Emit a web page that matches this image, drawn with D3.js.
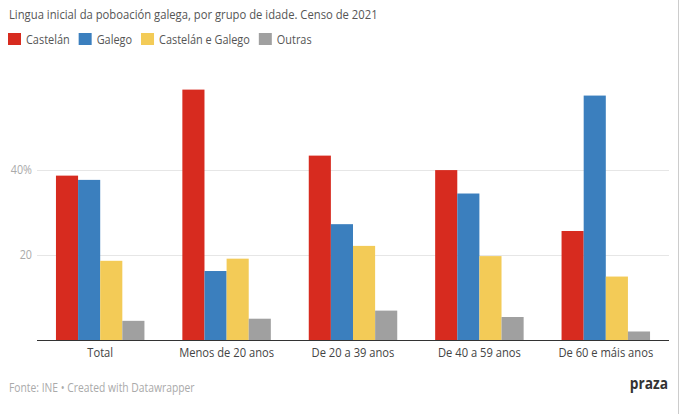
<!DOCTYPE html>
<meta charset="utf-8">
<title>Lingua inicial</title>
<style>
    body { margin: 0; background: #fff; }
    text { font-family: "Open Sans", sans-serif; }
    .grid line { stroke: #e6e6e6; stroke-width: 1; shape-rendering: crispEdges; }
    .ytick { fill: #aaa; font-size: 12.5px; text-anchor: end; }
    .xlab { fill: #444; font-size: 13px; text-anchor: middle; }
</style>
<body>
<div id="chart"></div>
<script src="https://d3js.org/d3.v7.min.js"></script>
<script>
    // data (% of population)
    var categories = ["Total", "Menos de 20 anos", "De 20 a 39 anos", "De 40 a 59 anos", "De 60 e máis anos"];
    var seriesNames = ["Castelán", "Galego", "Castelán e Galego", "Outras"];
    var castelan = [38.6, 58.8, 43.3, 39.9, 25.6];
    var galego   = [37.6, 16.2, 27.2, 34.4, 57.4];
    var ambas    = [18.6, 19.1, 22.1, 19.7, 14.9];
    var outras   = [4.5, 5.0, 6.9, 5.4, 2.0];
    var yTicks = [20, 40];
    var yTickLabels = ["20", "40%"];
    var colors = ["#d72b1f", "#3b7fbe", "#f3cb57", "#a0a0a0"];

    var values = [castelan, galego, ambas, outras];
    var rows = categories.map((c, i) => ({cat: c, vals: values.map(v => v[i])}));

    var width = 680, height = 414;
    var left = 37, right = 669, baseY = 340;
    var sx = 0.86; // the text in the original is a bit narrow

    var svg = d3.select("#chart").append("svg")
        .attr("width", width)
        .attr("height", height);

    // place text at x,y but squeezed horizontally
    function place(t, x, yy) {
        return t.attr("transform", `translate(${x},${yy}) scale(${sx},1)`);
    }

    var x0 = d3.scaleBand().domain(categories).range([left, right])
        .paddingInner(0.3).paddingOuter(0.15);
    var x1 = d3.scaleBand().domain(seriesNames).range([0, x0.bandwidth()]);
    var y = d3.scaleLinear().domain([0, 60]).range([baseY, 84.5]);

    // gridlines
    svg.append("g").attr("class", "grid")
        .selectAll("line").data(yTicks).enter().append("line")
        .attr("x1", left).attr("x2", right)
        .attr("y1", d => Math.round(y(d)) + 0.5).attr("y2", d => Math.round(y(d)) + 0.5);

    svg.append("g").selectAll("text").data(yTicks).enter().append("text")
        .attr("class", "ytick")
        .attr("transform", d => `translate(32,${y(d) + 4.5}) scale(${sx},1)`)
        .text((d, i) => yTickLabels[i]);

    // bars
    var groups = svg.selectAll(".grp").data(rows).enter().append("g")
        .attr("class", "grp")
        .attr("transform", d => `translate(${x0(d.cat)},0)`);

    groups.selectAll("rect").data(d => d.vals).enter().append("rect")
        .attr("x", (d, i) => x1(seriesNames[i]))
        .attr("y", d => y(d))
        .attr("width", x1.bandwidth())
        .attr("height", d => baseY - y(d))
        .style("fill", (d, i) => colors[i]);

    // baseline
    svg.append("line")
        .attr("x1", left).attr("x2", right)
        .attr("y1", baseY + 0.5).attr("y2", baseY + 0.5)
        .style("stroke", "#333").style("stroke-width", 1);

    // x labels
    svg.append("g").selectAll("text").data(categories).enter().append("text")
        .attr("class", "xlab")
        .attr("transform", d => `translate(${x0(d) + x0.bandwidth() / 2},357) scale(${sx},1)`)
        .text(d => d);

    // title
    place(svg.append("text"), 9, 18.5)
        .style("font-size", "13.1px")
        .style("fill", "#555")
        .text("Lingua inicial da poboación galega, por grupo de idade. Censo de 2021");

    // legend
    var lx = 8;
    seriesNames.forEach((s, i) => {
        svg.append("rect")
            .attr("x", lx).attr("y", 33)
            .attr("width", 13).attr("height", 12)
            .style("fill", colors[i]);
        var t = place(svg.append("text"), lx + 18, 44)
            .style("font-size", "12.7px")
            .style("fill", "#555")
            .text(s);
        lx += 18 + t.node().getComputedTextLength() * sx + 9;
    });

    // footer
    place(svg.append("text"), 9, 392)
        .style("font-size", "12px")
        .style("fill", "#aaa")
        .text("Fonte: INE • Created with Datawrapper");

    place(svg.append("text"), 668, 389)
        .style("font-size", "16px")
        .style("font-weight", "bold")
        .style("text-anchor", "end")
        .style("fill", "#333")
        .text("praza");

    // right edge border of the screenshot
    svg.append("line")
        .attr("x1", 678.5).attr("x2", 678.5)
        .attr("y1", 0).attr("y2", height)
        .style("stroke", "#ccc");
</script>
</body>
